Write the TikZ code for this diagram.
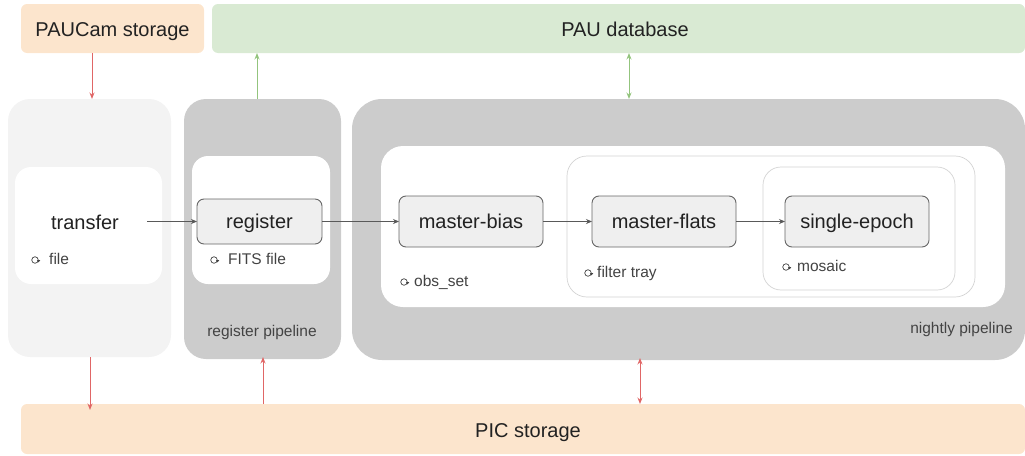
\documentclass[tikz,border=0pt]{standalone}
\usepackage{fontspec}
\setmainfont{Liberation Sans}
\usetikzlibrary{arrows.meta,calc}
\definecolor{orangebg}{HTML}{FCE5CD}
\definecolor{greenbg}{HTML}{D9EAD3}
\definecolor{grayouter}{HTML}{CCCCCC}
\definecolor{lightouter}{HTML}{F3F3F3}
\definecolor{nodefill}{HTML}{EFEFEF}
\definecolor{nodeborder}{HTML}{666666}
\definecolor{thinborder}{HTML}{D4D4D4}
\definecolor{redarrow}{HTML}{E06666}
\definecolor{greenarrow}{HTML}{93C47D}
\definecolor{grayarrow}{HTML}{595959}
\definecolor{labeltext}{HTML}{434343}
\definecolor{maintext}{HTML}{222222}
\newcommand\refreshtick[1]{\fill[labeltext] ([xshift=-1.7pt]#1.east) -- ++(3.4,0) -- ++(-1.7,2.4) -- cycle;}
\begin{document}
\begin{tikzpicture}[x=1pt,y=-1pt,
  area/.style={draw=none, rounded corners=#1, inner sep=0pt, outer sep=0pt},
  stepnode/.style={draw=nodeborder, line width=0.9pt, fill=nodefill, rounded corners=7pt,
     inner sep=0pt, outer sep=0pt, minimum width=144pt, minimum height=51pt,
     text=maintext, font=\fontsize{20}{24}\selectfont, text height=14.4pt, text depth=0pt},
  bigtext/.style={text=maintext, font=\fontsize{20}{24}\selectfont, inner sep=0pt,
     text height=14.4pt, text depth=0pt},
  smalltext/.style={text=labeltext, font=\fontsize{15.5}{18}\selectfont, inner sep=0pt,
     text height=11.2pt, text depth=0pt},
  icon/.style={circle, draw=labeltext, line width=0.7pt, minimum size=6.5pt, inner sep=0pt},
  flow/.style={draw=grayarrow, line width=0.9pt, -{Stealth[length=6pt,width=5pt]}},
  redflow/.style={draw=redarrow, line width=1pt, -{Stealth[length=6.5pt,width=5pt]}},
  greenflow/.style={draw=greenarrow, line width=1pt, -{Stealth[length=6.5pt,width=5pt]}}
]
\useasboundingbox (0,0) rectangle (1025,455);

% storage / database bars
\node[area=6pt, fill=orangebg, minimum width=183pt, minimum height=49pt] (paucam) at (112.5,28.5) {};
\node[bigtext] (paucamlabel) at (112.5,29.5) {PAUCam storage};
\node[area=6pt, fill=greenbg, minimum width=813pt, minimum height=49pt] (paudb) at (618.5,28.5) {};
\node[bigtext] (paudblabel) at (625,29.5) {PAU database};
\node[area=6pt, fill=orangebg, minimum width=1004pt, minimum height=50pt] (pic) at (523,429) {};
\node[bigtext] (piclabel) at (528,430) {PIC storage};

% transfer
\node[area=22pt, fill=lightouter, minimum width=163pt, minimum height=258pt] (touter) at (89.5,228) {};
\node[area=16pt, fill=white, minimum width=147pt, minimum height=117pt] (tinner) at (88.5,225.5) {};
\node[bigtext] (transfer) at (85,222) {transfer};
\node[icon] (ifile) at (35,260) {};
\node[smalltext, anchor=west] (lfile) at (49,259) {file};

% register pipeline
\node[area=22pt, fill=grayouter, minimum width=157pt, minimum height=260pt] (router) at (262.5,229) {};
\node[area=16pt, fill=white, minimum width=138pt, minimum height=128pt] (rinner) at (261,220) {};
\node[stepnode, minimum width=125pt, minimum height=45pt] (register) at (259.5,221.5) {register};
\node[icon] (ifits) at (214,260) {};
\node[smalltext, anchor=west] (lfits) at (228,259) {FITS file};
\node[smalltext] (lregpipe) at (262,331) {register pipeline};

% nightly pipeline
\node[area=30pt, fill=grayouter, minimum width=673pt, minimum height=261pt] (nouter) at (688.5,229.5) {};
\node[area=22pt, fill=white, minimum width=624pt, minimum height=161pt] (ninner) at (693,226.5) {};
\node[area=20pt, draw=thinborder, line width=0.7pt, fill=white, minimum width=408pt, minimum height=141pt] (ftray) at (771,226.5) {};
\node[area=18pt, draw=thinborder, line width=0.7pt, fill=white, minimum width=192pt, minimum height=123pt] (mosaicbox) at (859,228.5) {};
\node[stepnode] (mbias) at (471,221.5) {master-bias};
\node[stepnode] (mflats) at (664,221.5) {master-flats};
\node[stepnode] (sepoch) at (857,221.5) {single-epoch};
\node[icon] (iobs) at (404,282) {};
\node[smalltext, anchor=west] (lobs) at (414,280.5) {obs\_set};
\node[icon] (itray) at (588,273) {};
\node[smalltext, anchor=west] (ltray) at (597,272) {filter tray};
\node[icon] (imosaic) at (786,267) {};
\node[smalltext, anchor=west] (lmosaic) at (797,266) {mosaic};
\node[smalltext, anchor=east] (lnight) at (1013,327.5) {nightly pipeline};

% small arrow marks on the loop icons
\refreshtick{ifile}
\refreshtick{ifits}
\refreshtick{iobs}
\refreshtick{itray}
\refreshtick{imosaic}

% flow arrows
\coordinate (tstart) at ([xshift=-15pt]tinner.east |- register.west);
\draw[flow] (tstart) -- (register.west);
\draw[flow] (register.east) -- (mbias.west);
\draw[flow] (mbias.east) -- (mflats.west);
\draw[flow] (mflats.east) -- (sepoch.west);

% storage arrows
\draw[redflow] ([xshift=-20.5pt]paucam.south) -- ([xshift=-20.5pt]paucam.south |- touter.north);
\draw[greenflow] ([xshift=-5.5pt]router.north) -- ([xshift=-5.5pt]router.north |- paudb.south);
\draw[greenflow, {Stealth[length=6.5pt,width=5pt]}-{Stealth[length=6.5pt,width=5pt]}] ([xshift=-59.5pt]nouter.north) -- ([xshift=-59.5pt]nouter.north |- paudb.south);
\coordinate (picin) at ([yshift=-6pt]pic.north -| touter.south);
\draw[redflow] ([xshift=0.5pt]touter.south) -- ([xshift=0.5pt]picin);
\draw[redflow] ([xshift=0.5pt]router.south |- pic.north) -- ([xshift=0.5pt,yshift=2pt]router.south);
\draw[redflow, {Stealth[length=6.5pt,width=5pt]}-{Stealth[length=6.5pt,width=5pt]}] ([xshift=-48.5pt,yshift=2pt]nouter.south) -- ([xshift=-48.5pt]nouter.south |- pic.north);
\end{tikzpicture}
\end{document}
